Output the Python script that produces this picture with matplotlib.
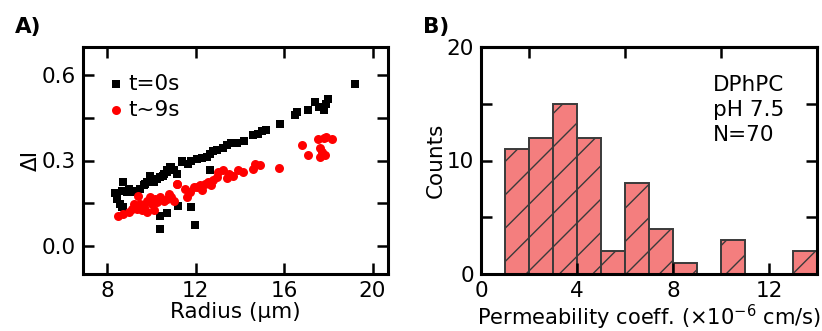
import matplotlib
matplotlib.use('Agg')
import matplotlib.pyplot as plt
import numpy as np

plt.rcParams['font.family'] = ['DejaVu Sans']
plt.rcParams['hatch.linewidth'] = 1.0

# panel A: Delta I vs radius
r_t0 = [19.2, 18.0, 17.4, 17.8, 17.1, 16.6, 16.5, 15.8, 15.2, 15.0, 14.8, 14.6,
        14.2, 13.85, 13.6, 13.4, 13.25, 12.95, 12.8, 12.65, 12.5, 12.27, 12.05,
        11.8, 11.67, 11.37, 12.65, 10.84, 10.7, 10.53, 11.2, 11.8, 11.97, 10.38,
        10.7, 10.38, 8.65, 8.35, 8.43, 8.65, 8.73, 8.88, 8.96, 9.11, 9.26, 9.49,
        9.64, 9.8, 9.95, 10.1, 10.25, 10.4, 10.55, 10.7, 10.86, 11.0, 11.16,
        11.39, 8.58, 8.73, 10.02, 9.72, 17.9, 17.6]
di_t0 = [0.571, 0.518, 0.506, 0.479, 0.479, 0.47, 0.46, 0.43, 0.406, 0.404, 0.395,
         0.39, 0.37, 0.36, 0.36, 0.353, 0.345, 0.336, 0.333, 0.324, 0.312, 0.31,
         0.306, 0.30, 0.289, 0.30, 0.265, 0.277, 0.265, 0.247, 0.139, 0.135, 0.074,
         0.059, 0.114, 0.106, 0.135, 0.184, 0.165, 0.194, 0.224, 0.188, 0.2, 0.188,
         0.194, 0.2, 0.212, 0.224, 0.247, 0.224, 0.235, 0.241, 0.253, 0.259, 0.276,
         0.265, 0.253, 0.294, 0.147, 0.135, 0.235, 0.218, 0.50, 0.49]

r_t9 = [18.16, 17.9, 17.8, 17.55, 17.62, 17.7, 17.62, 17.85, 16.8, 17.1, 15.78,
        14.9, 14.7, 14.6, 14.15, 13.9, 13.7, 13.5, 13.25, 13.0, 12.95, 12.8, 12.7,
        12.55, 12.4, 12.2, 12.05, 11.9, 11.74, 11.6, 11.5, 11.14, 8.5, 8.73, 8.96,
        9.11, 9.19, 9.34, 9.49, 9.64, 9.8, 9.95, 10.02, 10.17, 10.25, 10.4, 10.55,
        10.7, 10.86, 11.0, 10.78, 11.16, 9.8, 10.1, 9.41, 9.57, 12.3, 13.4]
di_t9 = [0.375, 0.383, 0.38, 0.377, 0.345, 0.33, 0.312, 0.318, 0.353, 0.318, 0.275,
         0.283, 0.286, 0.271, 0.259, 0.265, 0.247, 0.253, 0.265, 0.259, 0.241, 0.23,
         0.212, 0.224, 0.218, 0.212, 0.206, 0.206, 0.188, 0.171, 0.2, 0.218, 0.106,
         0.112, 0.118, 0.129, 0.147, 0.129, 0.147, 0.135, 0.159, 0.171, 0.147, 0.165,
         0.153, 0.171, 0.159, 0.165, 0.171, 0.159, 0.182, 0.218, 0.118, 0.124, 0.176,
         0.124, 0.195, 0.24]

# panel B: histogram of permeability coefficients
bin_left = [1, 2, 3, 4, 5, 6, 7, 8, 9, 10, 11, 12, 13]
counts = [11, 12, 15, 12, 2, 8, 4, 1, 0, 3, 0, 0, 2]

FS = 15.5

fig = plt.figure(figsize=(8.22, 3.31), dpi=100)
W, H = 822, 331
axA = fig.add_axes([83 / W, 1 - 274 / H, 305 / W, 227 / H])
axB = fig.add_axes([481 / W, 1 - 274 / H, 336 / W, 227 / H])

for ax in (axA, axB):
    for s in ax.spines.values():
        s.set_linewidth(2.2)
    ax.tick_params(which='both', direction='in', length=8, width=1.8,
                   labelsize=FS, pad=5, top=True, right=True)

axA.scatter(r_t0, di_t0, marker='s', s=30, c='black', linewidths=0, label='t=0s')
axA.scatter(r_t9, di_t9, marker='o', s=42, c='#ff0000', linewidths=0, label='t~9s')
axA.set_xlim(6.9, 20.7)
axA.set_ylim(-0.1, 0.7)
axA.set_xticks([8, 12, 16, 20])
axA.set_yticks([0.0, 0.3, 0.6])
axA.set_yticks([0.15, 0.45], minor=True)
axA.set_xlabel('Radius (μm)', fontsize=FS, labelpad=1)
axA.set_ylabel('ΔI', fontsize=FS, labelpad=1)
axA.legend(loc='upper left', frameon=False, fontsize=FS, handletextpad=0.1,
           borderaxespad=0.2, labelspacing=0.3, handlelength=1.0,
           bbox_to_anchor=(0.03, 0.94))

axB.bar(bin_left, counts, width=1.0, align='edge', color='#f47e7e',
        edgecolor='#3a3a3a', linewidth=1.4, hatch='/')
axB.set_xlim(0, 14)
axB.set_ylim(0, 20)
axB.set_xticks([0, 4, 8, 12])
axB.set_yticks([0, 10, 20])
axB.set_yticks([5, 15], minor=True)
axB.tick_params(top=False)
secx = axB.secondary_xaxis('top')
secx.set_xticks([2, 6, 10])
secx.tick_params(direction='in', length=8, width=1.8, labeltop=False)
secx.spines['top'].set_linewidth(2.2)
axB.set_xlabel('Permeability coeff. (×10$^{\\mathregular{-6}}$ cm/s)',
               fontsize=15.1, labelpad=1)
axB.set_ylabel('Counts', fontsize=FS, labelpad=1)
axB.text(0.69, 0.875, 'DPhPC\npH 7.5\nN=70', transform=axB.transAxes, fontsize=FS,
         va='top', ha='left', linespacing=1.3)

fig.text(15 / W, 1 - 27 / H, 'A)', fontsize=FS, fontweight='bold', va='center')
fig.text(423 / W, 1 - 27 / H, 'B)', fontsize=FS, fontweight='bold', va='center')

fig.savefig('out.png', dpi=100)
